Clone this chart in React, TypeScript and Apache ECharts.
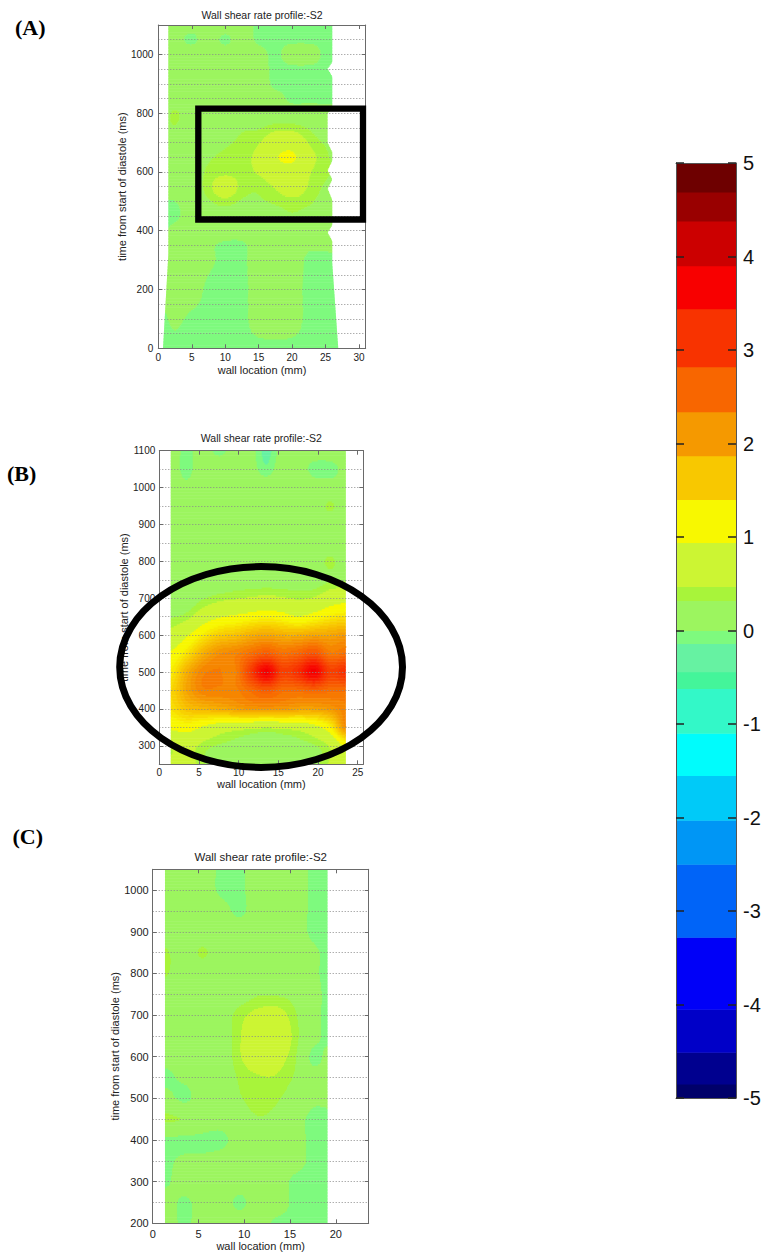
import React, { useEffect, useRef } from "react";
import * as echarts from "echarts";

// ---------- colour bar (contour levels, bottom -> top) ----------
const cbEdges = [-5, -4.85, -4.51, -4.05, -3.28, -2.5, -2.03, -1.55, -1.1, -0.62, -0.44, -0.14, 0, 0.32, 0.47, 0.94, 1.4, 1.87, 2.34, 2.82, 3.44, 3.9, 4.38, 4.69, 5];
const cbColors = [
  "#00006A", "#00008F", "#0000C8", "#0000F8", "#0064F8", "#0096F5", "#00CAF8", "#00FCFC",
  "#33F8C8", "#44F59A", "#66F2A2", "#7EFA7E", "#9CF55F", "#A8F43A", "#CCF533", "#F8F800",
  "#F8C800", "#F59900", "#F86600", "#F83300", "#F80000", "#CC0000", "#990000", "#6E0000",
];
const cbTicks = [-5, -4, -3, -2, -1, 0, 1, 2, 3, 4, 5];

// ---------- panel A ----------
const xNodesA = [0.5, 2.5, 5, 7.5, 10, 12.5, 15, 17.5, 20, 22.5, 25, 27];
const yNodesA = [1100, 1050, 1000, 950, 900, 850, 800, 750, 700, 650, 600, 550, 500, 450, 400, 350, 300, 200, 100, 0];
const wssA = [
  [0.15, 0.15, 0.1, 0.15, 0.15, 0.15, -0.05, -0.05, -0.05, -0.05, -0.05, -0.05],
  [0.15, 0.1, -0.05, 0.15, -0.05, 0.15, -0.05, -0.05, -0.05, -0.05, -0.05, -0.05],
  [0.15, 0.15, 0.15, 0.15, 0.15, 0.15, 0.1, -0.05, 0.15, 0.15, -0.05, -0.05],
  [0.15, 0.15, 0.2, 0.2, 0.15, 0.15, 0.1, -0.05, -0.05, -0.05, -0.05, -0.05],
  [0.15, 0.15, 0.2, 0.2, 0.2, 0.15, 0.15, -0.05, -0.05, -0.05, -0.05, -0.05],
  [0.15, 0.15, 0.15, 0.15, 0.2, 0.15, 0.15, 0.1, -0.05, -0.05, -0.05, -0.05],
  [0.2, 0.35, 0.15, 0.15, 0.2, 0.2, 0.15, 0.15, 0.15, 0.15, 0.1, 0.1],
  [0.2, 0.3, 0.15, 0.15, 0.25, 0.3, 0.3, 0.4, 0.4, 0.3, 0.2, 0.2],
  [0.15, 0.15, 0.2, 0.25, 0.3, 0.35, 0.45, 0.7, 0.75, 0.45, 0.3, 0.3],
  [0.15, 0.15, 0.2, 0.3, 0.35, 0.4, 0.55, 0.9, 1.0, 0.6, 0.35, 0.3],
  [0.1, 0.15, 0.2, 0.35, 0.4, 0.4, 0.5, 0.7, 0.75, 0.5, 0.35, 0.3],
  [0.05, 0.1, 0.2, 0.4, 0.7, 0.4, 0.35, 0.5, 0.7, 0.45, 0.3, 0.3],
  [0.0, 0.0, 0.15, 0.3, 0.4, 0.3, 0.3, 0.35, 0.4, 0.35, 0.25, 0.2],
  [-0.05, -0.05, 0.15, 0.2, 0.2, 0.2, 0.2, 0.25, 0.3, 0.25, 0.2, 0.15],
  [-0.05, 0.1, 0.15, 0.15, 0.15, 0.15, 0.15, 0.2, 0.2, 0.15, 0.15, 0.1],
  [0.1, 0.2, 0.15, 0.05, -0.05, -0.05, 0.15, 0.2, 0.15, 0.05, 0.05, 0.05],
  [0.1, 0.25, 0.2, 0.05, -0.05, -0.05, 0.15, 0.2, 0.15, -0.05, -0.05, -0.05],
  [0.05, 0.25, 0.15, -0.05, -0.05, -0.05, 0.1, 0.15, 0.1, -0.05, -0.05, -0.05],
  [-0.05, 0.05, -0.05, -0.05, -0.05, -0.05, 0.1, 0.15, 0.1, -0.05, -0.05, -0.05],
  [-0.05, -0.05, -0.05, -0.05, -0.05, -0.05, -0.05, -0.05, -0.05, -0.05, -0.05, -0.05],
];
const leftEdgeA = [[1100, 1.5], [320, 1.5], [0, 0.7]];
const rightEdgeA = [
  [1100, 26.0], [975, 26.0], [952, 25.3], [925, 26.0], [820, 26.0], [800, 25.3], [700, 25.3],
  [668, 26.0], [640, 26.0], [606, 25.3], [575, 26.0], [544, 25.3], [505, 26.0], [420, 26.0],
  [395, 25.3], [365, 26.0], [290, 26.0], [0, 26.9],
];

// ---------- panel B ----------
const xNodesB = [1.5, 3.5, 5.5, 7.5, 9.5, 11.5, 13.5, 15.5, 17.5, 19.5, 21.5, 23.5];
const yNodesB = [1100, 1050, 1000, 950, 900, 850, 800, 750, 700, 650, 600, 550, 500, 450, 400, 350, 300, 250];
const wssB = [
  [0.1, -0.05, 0.1, -0.05, 0.1, 0.1, -0.2, 0.1, 0.1, 0.1, 0.1, 0.1],
  [0.1, -0.05, 0.15, 0.15, 0.15, 0.1, -0.1, 0.15, 0.1, -0.05, -0.05, 0.05],
  [0.1, 0.05, 0.15, 0.15, 0.15, 0.15, 0.15, 0.15, 0.15, 0.1, 0.1, 0.05],
  [0.15, 0.15, 0.15, 0.15, 0.15, 0.15, 0.15, 0.15, 0.05, 0.15, 0.35, 0.15],
  [0.15, 0.15, 0.15, 0.15, 0.2, 0.25, 0.15, 0.15, 0.15, 0.15, 0.15, 0.15],
  [0.15, 0.15, 0.15, 0.15, 0.15, 0.15, 0.15, 0.15, 0.15, 0.15, 0.2, 0.15],
  [0.1, 0.15, 0.15, 0.15, 0.15, 0.15, 0.15, 0.15, 0.15, 0.2, 0.35, 0.2],
  [0.1, 0.05, 0.15, 0.15, 0.2, 0.2, 0.2, 0.2, 0.2, 0.2, 0.3, 0.3],
  [0.15, 0.15, 0.3, 0.4, 0.45, 0.5, 0.55, 0.5, 0.45, 0.5, 0.7, 0.8],
  [0.3, 0.4, 0.7, 0.9, 1.0, 1.1, 1.2, 1.1, 0.95, 1.1, 1.3, 1.4],
  [0.6, 0.9, 1.3, 1.6, 1.7, 1.9, 2.0, 1.9, 1.9, 2.0, 2.0, 2.1],
  [1.0, 1.4, 1.9, 2.2, 2.3, 2.5, 2.7, 2.5, 2.6, 2.8, 2.4, 2.5],
  [1.3, 1.9, 2.3, 2.35, 2.3, 3.0, 3.7, 3.0, 3.2, 3.7, 3.0, 3.2],
  [1.5, 2.0, 2.3, 2.3, 2.3, 2.5, 2.7, 2.5, 2.5, 2.6, 2.5, 2.5],
  [1.4, 1.7, 1.8, 1.9, 2.0, 2.1, 2.1, 2.1, 2.0, 2.0, 2.1, 2.3],
  [1.0, 1.1, 0.9, 0.7, 0.6, 0.55, 0.5, 0.55, 0.6, 0.8, 1.2, 2.2],
  [0.5, 0.6, 0.4, 0.3, 0.25, 0.2, 0.15, 0.2, 0.25, 0.3, 0.5, 1.0],
  [0.5, 0.6, 0.35, 0.15, 0.1, 0.15, 0.15, 0.15, 0.2, 0.25, 0.5, 0.7],
];
const leftEdgeB = [[1100, 1.44], [250, 1.44]];
const rightEdgeB = [[1100, 23.5], [250, 23.5]];

// ---------- panel C ----------
const xNodesC = [1.3, 3.5, 5.5, 7.5, 9.5, 11.5, 13.5, 15.5, 17.5, 19.1];
const yNodesC = [1050, 1000, 950, 900, 850, 800, 750, 700, 650, 600, 550, 500, 450, 400, 350, 300, 250, 200];
const wssC = [
  [0.15, 0.15, 0.15, -0.05, -0.05, 0.15, 0.15, 0.15, -0.05, -0.05],
  [0.15, 0.15, 0.15, -0.05, -0.05, 0.15, 0.15, 0.15, -0.05, -0.05],
  [0.15, 0.15, 0.15, 0.1, -0.05, 0.15, 0.15, 0.15, -0.05, -0.05],
  [0.2, 0.15, 0.15, 0.15, 0.15, 0.15, 0.15, 0.15, -0.05, -0.05],
  [0.35, 0.2, 0.35, 0.15, 0.15, 0.15, 0.15, 0.15, 0.05, -0.05],
  [0.35, 0.15, 0.15, 0.15, 0.15, 0.15, 0.15, 0.15, 0.05, -0.05],
  [0.15, 0.15, 0.2, 0.15, 0.2, 0.3, 0.3, 0.25, 0.1, -0.05],
  [0.15, 0.15, 0.25, 0.2, 0.4, 0.55, 0.6, 0.35, 0.1, -0.05],
  [0.2, 0.2, 0.25, 0.2, 0.45, 0.75, 0.85, 0.4, 0.1, -0.05],
  [0.1, 0.15, 0.15, 0.15, 0.45, 0.65, 0.6, 0.35, -0.05, 0.05],
  [-0.05, 0.05, 0.15, 0.15, 0.35, 0.45, 0.45, 0.3, 0.1, 0.1],
  [0.1, -0.05, 0.15, 0.15, 0.3, 0.4, 0.35, 0.2, 0.05, 0.05],
  [0.35, 0.3, 0.15, 0.1, 0.2, 0.3, 0.25, 0.1, -0.05, -0.05],
  [-0.05, -0.05, -0.05, -0.05, 0.1, 0.15, 0.15, 0.1, -0.05, -0.05],
  [-0.05, 0.05, 0.05, 0.1, 0.15, 0.15, 0.15, 0.1, -0.05, -0.05],
  [-0.05, 0.15, 0.15, 0.15, 0.15, 0.15, 0.15, -0.05, -0.05, -0.05],
  [0.15, -0.05, 0.15, 0.15, -0.05, 0.15, 0.15, -0.05, -0.05, -0.05],
  [0.15, -0.05, 0.15, 0.15, 0.15, 0.15, -0.05, -0.05, -0.05, -0.05],
];
const leftEdgeC = [[1050, 1.34], [200, 1.34]];
const rightEdgeC = [[1050, 19.1], [200, 19.1]];

// ---------- texts ----------
const TITLE = "Wall shear rate profile:-S2";
const X_NAME = "wall location (mm)";
const Y_NAME = "time from start of diastole (ms)";
const PANEL_LABELS = ["(A)", "(B)", "(C)"];

const SANS = '"Liberation Sans", Arial, sans-serif';

function colorOf(v: number): string {
  for (let k = 0; k < cbColors.length; k++) if (v < cbEdges[k + 1]) return cbColors[k];
  return cbColors[cbColors.length - 1];
}

// finer shading of the warm levels (contour fill between the colour-bar bands)
function hex2rgb(h: string) {
  return [parseInt(h.slice(1, 3), 16), parseInt(h.slice(3, 5), 16), parseInt(h.slice(5, 7), 16)];
}
const warmStart = 15; // index of the yellow band
function fieldColor(v: number): string {
  const mid = (k: number) => (cbEdges[k] + cbEdges[k + 1]) / 2;
  if (v < mid(warmStart)) return colorOf(v);
  const q = Math.round(v / 0.12) * 0.12;
  for (let k = warmStart; k < cbColors.length - 1; k++) {
    if (q <= mid(k + 1)) {
      const t = Math.max(0, Math.min(1, (q - mid(k)) / (mid(k + 1) - mid(k))));
      const a = hex2rgb(cbColors[k]), b = hex2rgb(cbColors[k + 1]);
      const c = a.map((x, n) => Math.round(x + (b[n] - x) * t));
      return `rgb(${c[0]},${c[1]},${c[2]})`;
    }
  }
  return cbColors[cbColors.length - 1];
}

function cr(p0: number, p1: number, p2: number, p3: number, t: number) {
  const t2 = t * t, t3 = t2 * t;
  return 0.5 * (2 * p1 + (-p0 + p2) * t + (2 * p0 - 5 * p1 + 4 * p2 - p3) * t2 + (-p0 + 3 * p1 - 3 * p2 + p3) * t3);
}

function edgeAt(edge: number[][], yv: number) {
  const e = [...edge].sort((a, b) => a[0] - b[0]);
  if (yv <= e[0][0]) return e[0][1];
  for (let k = 0; k < e.length - 1; k++) {
    if (yv <= e[k + 1][0]) {
      const t = (yv - e[k][0]) / (e[k + 1][0] - e[k][0]);
      return e[k][1] + (e[k + 1][1] - e[k][1]) * t;
    }
  }
  return e[e.length - 1][1];
}

function makeRender(xs: number[], ys: number[], vals: number[][], le: number[][], re: number[][]) {
  const nx = xs.length, ny = ys.length;
  const get = (r: number, c: number) => vals[Math.max(0, Math.min(ny - 1, r))][Math.max(0, Math.min(nx - 1, c))];
  const rowAt = (j: number, t: number) => xs.map((_, c) => cr(get(j - 1, c), get(j, c), get(j + 1, c), get(j + 2, c), t));
  const valAtX = (row: number[], mm: number) => {
    if (mm <= xs[0]) return row[0];
    if (mm >= xs[nx - 1]) return row[nx - 1];
    let k = 0;
    while (k < nx - 2 && mm > xs[k + 1]) k++;
    const t = (mm - xs[k]) / (xs[k + 1] - xs[k]);
    const g = (c: number) => row[Math.max(0, Math.min(nx - 1, c))];
    return cr(g(k - 1), g(k), g(k + 1), g(k + 2), t);
  };
  return (params: any, api: any) => {
    const i = api.value(3), j = api.value(4);
    if (i !== 0 || j >= ny - 1) return { type: "group", children: [] };
    const pA = api.coord([xs[0], ys[j]]);
    const pB = api.coord([xs[0], ys[j + 1]]);
    const qA = api.coord([xs[nx - 1], ys[j]]);
    const x0px = pA[0];
    const pxPerMm = (qA[0] - x0px) / (xs[nx - 1] - xs[0]);
    const hpx = Math.abs(pB[1] - pA[1]);
    const nSub = Math.max(1, Math.round(hpx / 1.5));
    const children: any[] = [];
    for (let s = 0; s < nSub; s++) {
      const t = (s + 0.5) / nSub;
      const yv = ys[j] + (ys[j + 1] - ys[j]) * t;
      const y0 = pA[1] + (pB[1] - pA[1]) * (s / nSub);
      const y1 = pA[1] + (pB[1] - pA[1]) * ((s + 1) / nSub);
      const ya = Math.min(y0, y1), h = Math.abs(y1 - y0);
      const row = rowAt(j, t);
      const pl = x0px + (edgeAt(le, yv) - xs[0]) * pxPerMm;
      const pr = x0px + (edgeAt(re, yv) - xs[0]) * pxPerMm;
      let runStart = pl;
      let runColor: string | null = null;
      for (let px = pl; px < pr; px += 1) {
        const pe = Math.min(px + 1, pr);
        const mm = xs[0] + ((px + pe) / 2 - x0px) / pxPerMm;
        const col = fieldColor(valAtX(row, mm));
        if (col !== runColor) {
          if (runColor) children.push({ type: "rect", shape: { x: runStart, y: ya, width: px - runStart + 0.5, height: h + 0.5 }, style: { fill: runColor }, silent: true });
          runColor = col;
          runStart = px;
        }
      }
      if (runColor) children.push({ type: "rect", shape: { x: runStart, y: ya, width: pr - runStart, height: h + 0.5 }, style: { fill: runColor }, silent: true });
    }
    return { type: "group", children };
  };
}

function nodes(xs: number[], ys: number[], vals: number[][]) {
  const out: number[][] = [];
  ys.forEach((y, j) => xs.forEach((x, i) => out.push([x, y, vals[j][i], i, j])));
  return out;
}

const panels = [
  { grid: { left: 158.3, top: 25, width: 207.4, height: 323.3 }, xMax: 31, yMin: 0, yMax: 1100, step: 200, tickFont: 10, xLM: 4, yLM: 5, xNG: 16, yNG: 31,
    xs: xNodesA, ys: yNodesA, v: wssA, le: leftEdgeA, re: rightEdgeA, titleY: 15, titleSize: 10.5 },
  { grid: { left: 159.3, top: 450.7, width: 204, height: 313.6 }, xMax: 25.7, yMin: 250, yMax: 1100, step: 100, tickFont: 10, xLM: 3, yLM: 4, xNG: 13, yNG: 29,
    xs: xNodesB, ys: yNodesB, v: wssB, le: leftEdgeB, re: rightEdgeB, titleY: 438.3, titleSize: 10.5 },
  { grid: { left: 152.7, top: 869.3, width: 216, height: 354 }, xMax: 23.6, yMin: 200, yMax: 1050, step: 100, tickFont: 11, xLM: 5, yLM: 4, xNG: 17, yNG: 32,
    xs: xNodesC, ys: yNodesC, v: wssC, le: leftEdgeC, re: rightEdgeC, titleY: 856.7, titleSize: 11.5 },
];

function buildOption() {
  const grid: any[] = [];
  const xAxis: any[] = [];
  const yAxis: any[] = [];
  const series: any[] = [];
  const graphic: any[] = [];
  const axisColor = "#6a6a6a";

  panels.forEach((p, g) => {
    grid.push({ ...p.grid });
    const labelVals: number[] = [];
    for (let v = Math.ceil(p.yMin / p.step) * p.step; v <= p.yMax; v += p.step) labelVals.push(v);
    const xb = xAxis.length;
    xAxis.push({
      type: "value", gridIndex: g, position: "bottom", min: 0, max: p.xMax, interval: 5,
      axisLine: { show: true, onZero: false, lineStyle: { color: axisColor } },
      axisTick: { show: true, inside: true, length: 4, lineStyle: { color: axisColor } },
      axisLabel: { fontSize: p.tickFont, fontFamily: SANS, color: "#222", margin: p.xLM, showMaxLabel: false },
      splitLine: { show: false },
      name: X_NAME, nameLocation: "middle", nameGap: p.xNG,
      nameTextStyle: { fontSize: 11, fontFamily: SANS, color: "#222" },
      z: 10,
    });
    xAxis.push({
      type: "value", gridIndex: g, position: "top", min: 0, max: p.xMax, interval: 5,
      axisLine: { show: true, onZero: false, lineStyle: { color: axisColor } },
      axisTick: { show: true, inside: true, length: 4, lineStyle: { color: axisColor } },
      axisLabel: { show: false }, splitLine: { show: false }, z: 10,
    });
    const yl = yAxis.length;
    yAxis.push({
      type: "value", gridIndex: g, position: "left", min: p.yMin, max: p.yMax, interval: 50,
      axisLine: { show: true, onZero: false, lineStyle: { color: axisColor } },
      axisTick: { show: false },
      axisLabel: {
        fontSize: p.tickFont, fontFamily: SANS, color: "#222", margin: p.yLM,
        formatter: (v: number) => (v % p.step === 0 ? String(v) : ""),
      },
      splitLine: { show: true, lineStyle: { color: "#8a8a8a", type: [1, 2], width: 1 } },
      name: Y_NAME, nameLocation: "middle", nameGap: p.yNG,
      nameTextStyle: { fontSize: 11, fontFamily: SANS, color: "#222" },
      z: 10,
    });
    yAxis.push({
      type: "value", gridIndex: g, position: "left", min: p.yMin, max: p.yMax,
      axisLine: { show: false, onZero: false },
      axisTick: { show: true, inside: true, length: 4, customValues: labelVals, lineStyle: { color: axisColor } },
      axisLabel: { show: false }, splitLine: { show: false }, z: 10,
    });
    yAxis.push({
      type: "value", gridIndex: g, position: "right", min: p.yMin, max: p.yMax,
      axisLine: { show: true, onZero: false, lineStyle: { color: axisColor } },
      axisTick: { show: true, inside: true, length: 4, customValues: labelVals, lineStyle: { color: axisColor } },
      axisLabel: { show: false }, splitLine: { show: false }, z: 10,
    });
    series.push({
      type: "custom", xAxisIndex: xb, yAxisIndex: yl, clip: true, silent: true, z: 2,
      encode: { x: 0, y: 1 },
      data: nodes(p.xs, p.ys, p.v),
      renderItem: makeRender(p.xs, p.ys, p.v, p.le, p.re),
    });
    graphic.push({
      type: "text", x: p.grid.left + p.grid.width / 2, y: p.titleY, z: 100,
      style: { text: TITLE, align: "center", verticalAlign: "middle", font: `${p.titleSize}px ${SANS}`, fill: "#222" },
    });
  });

  // colour bar
  const cg = grid.length;
  grid.push({ left: 676, top: 163, width: 60, height: 935 });
  const cxb = xAxis.length;
  xAxis.push({
    type: "value", gridIndex: cg, position: "bottom", min: 0, max: 1,
    axisLine: { show: true, onZero: false, lineStyle: { color: "#555" } },
    axisTick: { show: false }, axisLabel: { show: false }, splitLine: { show: false }, z: 10,
  });
  xAxis.push({
    type: "value", gridIndex: cg, position: "top", min: 0, max: 1,
    axisLine: { show: true, onZero: false, lineStyle: { color: "#555" } },
    axisTick: { show: false }, axisLabel: { show: false }, splitLine: { show: false }, z: 10,
  });
  const cyr = yAxis.length;
  yAxis.push({
    type: "value", gridIndex: cg, position: "right", min: cbTicks[0], max: cbTicks[cbTicks.length - 1], interval: 1,
    axisLine: { show: true, onZero: false, lineStyle: { color: "#555" } },
    axisTick: { show: true, inside: true, length: 8, lineStyle: { color: "#222", width: 1.5 } },
    axisLabel: { fontSize: 20, fontFamily: SANS, color: "#111", margin: 7 },
    splitLine: { show: false }, z: 10,
  });
  yAxis.push({
    type: "value", gridIndex: cg, position: "left", min: cbTicks[0], max: cbTicks[cbTicks.length - 1], interval: 1,
    axisLine: { show: true, onZero: false, lineStyle: { color: "#555" } },
    axisTick: { show: true, inside: true, length: 8, lineStyle: { color: "#222", width: 1.5 } },
    axisLabel: { show: false }, splitLine: { show: false }, z: 10,
  });
  series.push({
    type: "custom", xAxisIndex: cxb, yAxisIndex: cyr, clip: true, silent: true, z: 2,
    encode: { x: 0, y: [1, 2] },
    data: cbColors.map((_, k) => [0.5, cbEdges[k], cbEdges[k + 1], k]),
    renderItem: (params: any, api: any) => {
      const lo = api.value(1), hi = api.value(2), k = api.value(3);
      const p1 = api.coord([0, hi]);
      const p2 = api.coord([1, lo]);
      return { type: "rect", shape: { x: p1[0], y: p1[1], width: p2[0] - p1[0], height: p2[1] - p1[1] + 0.5 }, style: { fill: cbColors[k] } };
    },
  });

  // annotations
  graphic.push({
    type: "rect", z: 100, shape: { x: 198.3, y: 108.7, width: 164.7, height: 110.8 },
    style: { fill: "none", stroke: "#000", lineWidth: 6.3 },
  });
  graphic.push({
    type: "ellipse", z: 100, shape: { cx: 261.1, cy: 667, rx: 141.4, ry: 100.4 },
    style: { fill: "none", stroke: "#000", lineWidth: 7 },
  });
  const labelPos = [[15, 27], [7, 473], [12.5, 836]];
  PANEL_LABELS.forEach((t, k) => {
    graphic.push({
      type: "text", x: labelPos[k][0], y: labelPos[k][1], z: 100,
      style: { text: t, align: "left", verticalAlign: "middle", font: 'bold 22px "Liberation Serif", "Times New Roman", serif', fill: "#000" },
    });
  });

  return { animation: false, backgroundColor: "#fff", grid, xAxis, yAxis, series, graphic };
}

export default function App() {
  const ref = useRef<HTMLDivElement>(null);
  useEffect(() => {
    const chart = echarts.init(ref.current!, null, { renderer: "svg" });
    chart.setOption(buildOption() as any);
    return () => chart.dispose();
  }, []);
  return <div ref={ref} style={{ position: "absolute", left: 0, top: 0, width: 773, height: 1257, background: "#fff" }} />;
}
